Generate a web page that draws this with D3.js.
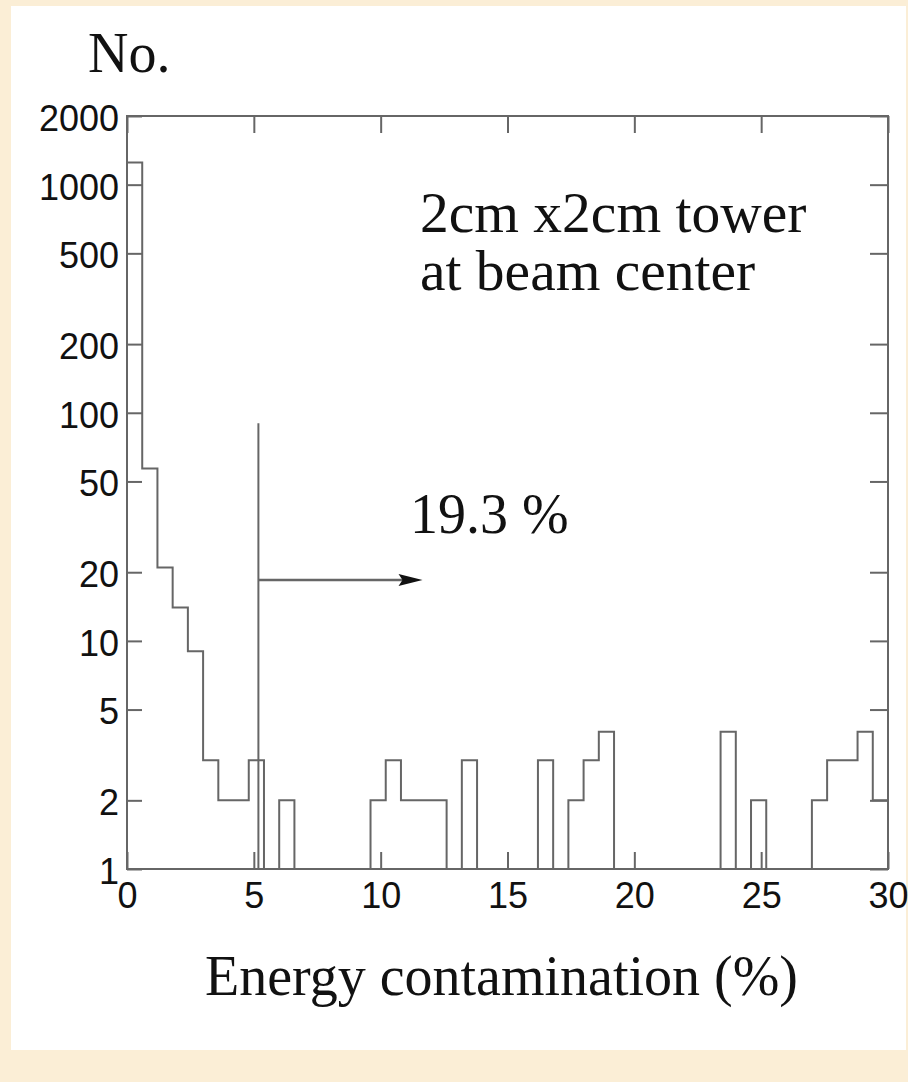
<!DOCTYPE html>
<html>
<head>
<meta charset="utf-8">
<script src="https://cdn.jsdelivr.net/npm/d3@7"></script>
<style>
  html, body { margin: 0; padding: 0; background: #fbeed6; }
  svg { display: block; }
</style>
</head>
<body>
<svg id="chart" width="908" height="1082"></svg>
<script>
// ---- data ----
const binWidth = 0.6;
const counts = [1250, 57, 21, 14, 9, 3, 2, 2, 3, 1,
                2, 1, 1, 1, 1, 1, 2, 3, 2, 2,
                2, 1, 3, 1, 1, 1, 1, 3, 1, 2,
                3, 4, 1, 1, 1, 1, 1, 1, 1, 4,
                1, 2, 1, 1, 1, 2, 3, 3, 4, 2];
const xTicks = [0, 5, 10, 15, 20, 25, 30];
const yTicks = [1, 2, 5, 10, 20, 50, 100, 200, 500, 1000, 2000];
const cutX = [5.18];
const cutTop = [90];
const arrowY = [18.5];
const arrowEnd = [11.65];
const yLabel = "No.";
const xLabel = "Energy contamination (%)";
const noteLines = ["2cm x2cm tower", "at beam center"];
const pctLabel = "19.3 %";

// ---- layout ----
const svg = d3.select("#chart");
const L = 127, R = 888, T = 116, B = 869;
const x = d3.scaleLinear().domain([0, 30]).range([L, R]);
const y = d3.scaleLog().domain([1, 2000]).range([B, T]);
const lineColor = "#666";
const serif = "'Liberation Serif', 'Times New Roman', serif";
const sans = "'Liberation Sans', Arial, sans-serif";

// background panel
svg.append("rect").attr("x", 0).attr("y", 0).attr("width", 908).attr("height", 1082).attr("fill", "#fbeed6");
svg.append("rect").attr("x", 11).attr("y", 6).attr("width", 895).attr("height", 1044).attr("fill", "#ffffff");

// axes (inside ticks)
function styleAxis(g) {
  g.select(".domain").remove();
  g.selectAll(".tick line").attr("stroke", lineColor).attr("stroke-width", 2);
}
const gB = svg.append("g").attr("transform", `translate(0,${B})`)
  .call(d3.axisBottom(x).tickValues(xTicks).tickSize(-17).tickPadding(13).tickFormat(d3.format("d")));
styleAxis(gB);
gB.selectAll(".tick text").attr("font-family", sans).attr("font-size", 36).attr("fill", "#111");

const gT = svg.append("g").attr("transform", `translate(0,${T})`)
  .call(d3.axisTop(x).tickValues(xTicks).tickSize(-17).tickFormat(""));
styleAxis(gT);

const gL = svg.append("g").attr("transform", `translate(${L},0)`)
  .call(d3.axisLeft(y).tickValues(yTicks).tickSize(-15).tickPadding(8).tickFormat(d3.format("d")));
styleAxis(gL);
gL.selectAll(".tick text").attr("font-family", sans).attr("font-size", 36).attr("fill", "#111").attr("dy", "0.4em");

const gR = svg.append("g").attr("transform", `translate(${R},0)`)
  .call(d3.axisRight(y).tickValues(yTicks).tickSize(-18).tickFormat(""));
styleAxis(gR);

// histogram step line
const pts = [[0, 1]];
counts.forEach((v, i) => pts.push([i * binWidth, v]));
pts.push([counts.length * binWidth, counts[counts.length - 1]]);
pts.push([counts.length * binWidth, 1]);
svg.append("path")
  .attr("d", d3.line().x(d => x(d[0])).y(d => y(d[1])).curve(d3.curveStepAfter)(pts))
  .attr("fill", "none").attr("stroke", lineColor).attr("stroke-width", 2);

// frame
svg.append("rect").attr("x", L).attr("y", T).attr("width", R - L).attr("height", B - T)
  .attr("fill", "none").attr("stroke", lineColor).attr("stroke-width", 2);

// cut line and arrow
svg.append("line")
  .attr("x1", x(cutX[0])).attr("x2", x(cutX[0]))
  .attr("y1", y(1)).attr("y2", y(cutTop[0]))
  .attr("stroke", lineColor).attr("stroke-width", 2);
const ax0 = x(cutX[0]), ax1 = x(arrowEnd[0]), ay = y(arrowY[0]);
svg.append("line")
  .attr("x1", ax0).attr("x2", ax1 - 18).attr("y1", ay).attr("y2", ay)
  .attr("stroke", lineColor).attr("stroke-width", 2.5);
svg.append("path")
  .attr("d", `M${ax1},${ay} L${ax1 - 24},${ay - 6} L${ax1 - 20},${ay} L${ax1 - 24},${ay + 6} Z`)
  .attr("fill", "#111");

// texts
svg.append("text").attr("x", 88).attr("y", 72).attr("font-family", serif).attr("font-size", 56)
  .attr("fill", "#111").text(yLabel);
noteLines.forEach((t, i) => {
  svg.append("text").attr("x", 420).attr("y", 232 + i * 58).attr("font-family", serif)
    .attr("font-size", 57.5).attr("fill", "#111").text(t);
});
svg.append("text").attr("x", 410).attr("y", 533).attr("font-family", serif).attr("font-size", 56)
  .attr("fill", "#111").text(pctLabel);
svg.append("text").attr("x", 205).attr("y", 995).attr("font-family", serif).attr("font-size", 56)
  .attr("fill", "#111").text(xLabel);
</script>
</body>
</html>
